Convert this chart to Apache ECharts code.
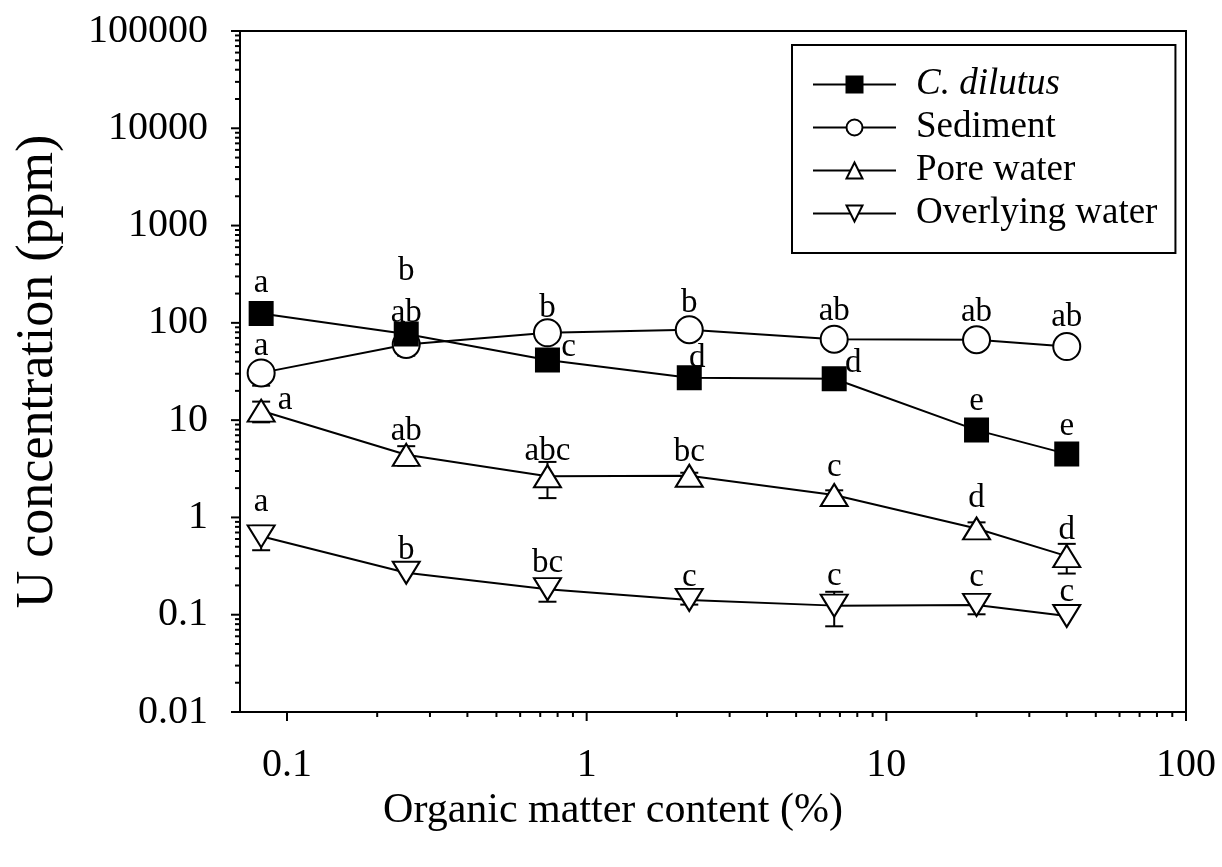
<!DOCTYPE html>
<html><head><meta charset="utf-8">
<script src="https://cdn.jsdelivr.net/npm/echarts@6/dist/echarts.min.js"></script>
<style>html,body{margin:0;padding:0;background:#fff}#c{width:1222px;height:867px}</style>
</head><body><div id="c"></div>
<script>
// ---- data ----
const omContent = [0.082, 0.25, 0.74, 2.2, 6.7, 20, 40];
const cdMean = [125, 77, 41.5, 27.2, 26.6, 7.9, 4.5];
const cdSD = [0, 0, 0, 0, 0, 0, 0];
const cdLetters = ['a', 'ab', 'c', 'd', 'd', 'e', 'e'];
const sedMean = [30.6, 60, 79, 85, 68, 67, 57];
const sedSD = [8, 14, 0, 0, 0, 0, 0];
const sedLetters = ['a', 'b', 'b', 'b', 'ab', 'ab', 'ab'];
const poreMean = [12.5, 4.4, 2.65, 2.68, 1.7, 0.77, 0.4];
const poreSD = [3, 1.0, 1.07, 0.2, 0.2, 0.12, 0.135];
const poreLetters = ['a', 'ab', 'abc', 'bc', 'c', 'd', 'd'];
const overMean = [0.64, 0.27, 0.183, 0.142, 0.124, 0.126, 0.097];
const overSD = [0.18, 0, 0.047, 0.015, 0.048, 0.025, 0];
const overLetters = ['a', 'b', 'bc', 'c', 'c', 'c', 'c'];
const seriesNames = ['C. dilutus', 'Sediment', 'Pore water', 'Overlying water'];
const xTickLabels = ['0.1', '1', '10', '100'];
const yTickLabels = ['0.01', '0.1', '1', '10', '100', '1000', '10000', '100000'];

// ---- layout (label offsets relative to marker centre) ----
const cdLabelOff = [[0,-30],[0,-21],[21,-13],[8,-20],[19,-15],[0,-29],[0,-28]];
const sedLabelOff = [[0,-27],[0,-73],[0,-24],[0,-26],[0,-28],[0,-27],[0,-29]];
const poreLabelOff = [[24,-10],[0,-24],[0,-25],[0,-23],[0,-28],[0,-30],[0,-26]];
const overLabelOff = [[0,-34],[0,-22],[0,-26],[0,-23],[0,-29],[0,-28],[0,-24]];

const FONT = 'Liberation Serif';
const xMin = 0.0697, xMax = 100, yMin = 0.01, yMax = 100000;

function tickLabel(list) {
  return function (v) {
    const l = Math.log10(v);
    const t = list.find(s => Math.abs(Math.log10(+s) - l) < 1e-6);
    return t === undefined ? '' : t;
  };
}

function lineSeries(name, mean, letters, off, symbol, size, fill, z) {
  return {
    type: 'line', name: name, z: z,
    data: omContent.map((x, i) => ({
      value: [x, mean[i]],
      label: { formatter: letters[i], offset: off[i] }
    })),
    symbol: symbol, symbolSize: size, showAllSymbol: true,
    lineStyle: { color: '#000', width: 2 },
    itemStyle: { color: fill, borderColor: '#000', borderWidth: 2 },
    label: { show: true, position: 'inside', color: '#000', fontFamily: FONT, fontSize: 33 },
    emphasis: { disabled: true },
    animation: false
  };
}

function errSeries(mean, sd) {
  return {
    type: 'custom', silent: true, z: 1, clip: false, animation: false,
    data: omContent.map((x, i) => [x, mean[i], sd[i]]).filter(d => d[2] > 0),
    encode: { x: 0, y: 1 },
    renderItem: function (params, api) {
      const x = api.value(0), m = api.value(1), s = api.value(2);
      const lo = api.coord([x, m - s]), hi = api.coord([x, m + s]);
      const hw = 9, st = { stroke: '#000', lineWidth: 2 };
      return { type: 'group', children: [
        { type: 'line', shape: { x1: lo[0], y1: lo[1], x2: hi[0], y2: hi[1] }, style: st },
        { type: 'line', shape: { x1: lo[0] - hw, y1: lo[1], x2: lo[0] + hw, y2: lo[1] }, style: st },
        { type: 'line', shape: { x1: hi[0] - hw, y1: hi[1], x2: hi[0] + hw, y2: hi[1] }, style: st }
      ]};
    }
  };
}

// axis ticks (major + minor, drawn outward)
const tickData = [];
for (let e = -1; e <= 2; e++) tickData.push([Math.pow(10, e), yMin, 0]);
for (let e = -1; e < 2; e++) for (let k = 2; k <= 9; k++) tickData.push([k * Math.pow(10, e), yMin, 1]);
for (let e = -2; e <= 5; e++) tickData.push([xMin, Math.pow(10, e), 2]);
for (let e = -2; e < 5; e++) for (let k = 2; k <= 9; k++) tickData.push([xMin, k * Math.pow(10, e), 3]);

const tickSeries = {
  type: 'custom', silent: true, clip: false, z: 5, animation: false,
  data: tickData, encode: { x: 0, y: 1 },
  renderItem: function (params, api) {
    const p = api.coord([api.value(0), api.value(1)]);
    const kind = api.value(2);
    const st = { stroke: '#000', lineWidth: 2 };
    if (kind === 0) return { type: 'line', shape: { x1: p[0], y1: p[1], x2: p[0], y2: p[1] + 9 }, style: st };
    if (kind === 1) return { type: 'line', shape: { x1: p[0], y1: p[1], x2: p[0], y2: p[1] + 5 }, style: st };
    if (kind === 2) return { type: 'line', shape: { x1: p[0], y1: p[1], x2: p[0] - 9, y2: p[1] }, style: st };
    return { type: 'line', shape: { x1: p[0], y1: p[1], x2: p[0] - 5, y2: p[1] }, style: st };
  }
};

const downTri = 'path://M0,0L27,0L13.5,22Z';

const chart = echarts.init(document.getElementById('c'), null, { renderer: 'canvas' });
chart.setOption({
  backgroundColor: '#fff',
  animation: false,
  grid: { left: 240, right: 36, top: 31, bottom: 155, show: true, borderColor: '#000', borderWidth: 2 },
  xAxis: {
    type: 'log', logBase: 10, min: xMin, max: xMax, splitNumber: 3,
    axisLine: { lineStyle: { color: '#000', width: 2 } },
    axisTick: { show: false }, splitLine: { show: false },
    axisLabel: { formatter: tickLabel(xTickLabels), margin: 33, fontSize: 40, fontFamily: FONT, color: '#000', hideOverlap: false },
    name: 'Organic matter content (%)', nameLocation: 'middle', nameGap: 67,
    nameTextStyle: { fontSize: 42, fontFamily: FONT, color: '#000', padding: [0, 200, 0, 0] }
  },
  yAxis: {
    type: 'log', logBase: 10, min: yMin, max: yMax, splitNumber: 7,
    axisLine: { lineStyle: { color: '#000', width: 2 } },
    axisTick: { show: false }, splitLine: { show: false },
    axisLabel: { formatter: tickLabel(yTickLabels), margin: 32, fontSize: 40, fontFamily: FONT, color: '#000' },
    name: 'U concentration (ppm)', nameLocation: 'middle', nameGap: 176,
    nameTextStyle: { fontSize: 52, fontFamily: FONT, color: '#000' }
  },
  legend: {
    data: seriesNames, orient: 'vertical', left: 792, top: 45,
    padding: [19, 18, 19, 20], itemWidth: 83, itemHeight: 20, itemGap: 2,
    borderColor: '#000', borderWidth: 2, borderRadius: 0, backgroundColor: '#fff',
    selectedMode: false,
    formatter: n => '{g|}' + (n === 'C. dilutus' ? '{i|' + n + '}' : '{n|' + n + '}'),
    textStyle: {
      fontFamily: FONT, fontSize: 37, color: '#000', lineHeight: 41,
      rich: {
        g: { width: 15 },
        i: { fontStyle: 'italic', fontFamily: FONT, fontSize: 37, color: '#000', lineHeight: 41 },
        n: { fontFamily: FONT, fontSize: 37, color: '#000', lineHeight: 41 }
      }
    }
  },
  series: [
    errSeries(sedMean, sedSD),
    errSeries(poreMean, poreSD),
    errSeries(overMean, overSD),
    errSeries(cdMean, cdSD),
    lineSeries(seriesNames[1], sedMean, sedLetters, sedLabelOff, 'circle', 27, '#fff', 2),
    lineSeries(seriesNames[2], poreMean, poreLetters, poreLabelOff, 'triangle', [27, 22], '#fff', 2),
    lineSeries(seriesNames[3], overMean, overLetters, overLabelOff, downTri, [27, 22], '#fff', 2),
    lineSeries(seriesNames[0], cdMean, cdLetters, cdLabelOff, 'rect', 23, '#000', 3),
    tickSeries
  ]
});
</script>
</body></html>
